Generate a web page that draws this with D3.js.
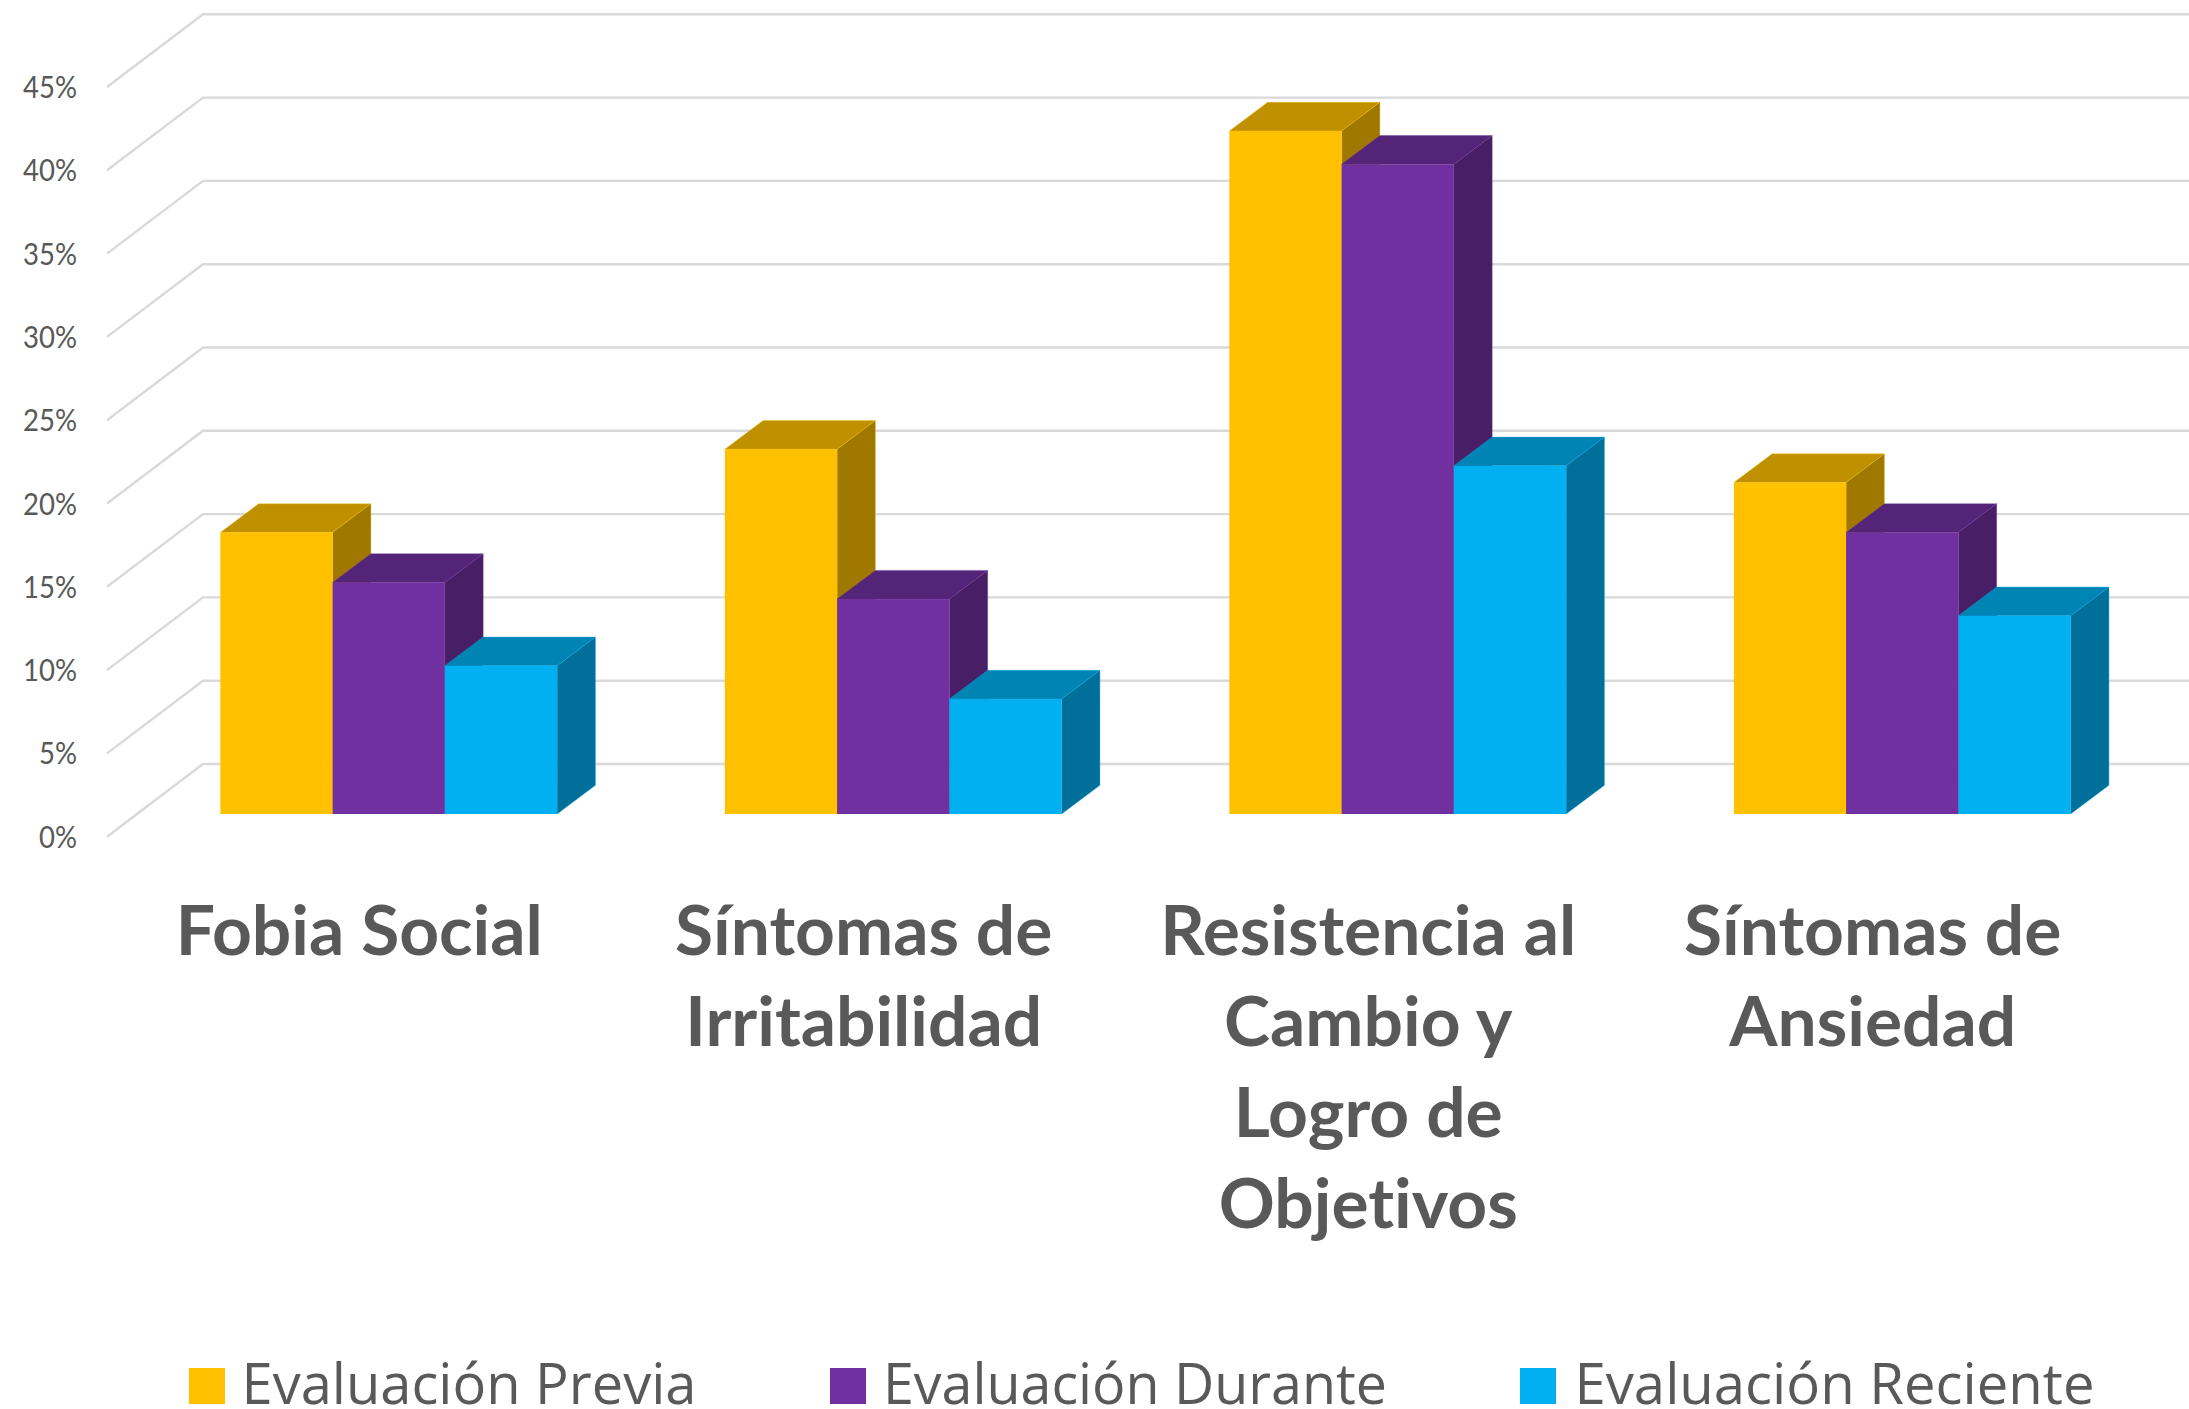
<!DOCTYPE html>
<html><head><meta charset="utf-8">
<style>html,body{margin:0;padding:0;background:#fff;overflow:hidden}svg{display:block}text{font-variant-ligatures:none}</style>
<script src="https://d3js.org/d3.v7.min.js"></script></head>
<body><svg id="c" width="2189" height="1409"></svg>
<script>
const categories = [["Fobia Social"],["Síntomas de","Irritabilidad"],["Resistencia al","Cambio y","Logro de","Objetivos"],["Síntomas de","Ansiedad"]];
const seriesNames = ["Evaluación Previa","Evaluación Durante","Evaluación Reciente"];
const previa = [16.9,21.9,41,19.9];
const durante = [13.9,12.9,39,16.9];
const reciente = [8.9,6.9,20.9,11.9];
const seriesValues = [previa,durante,reciente];
const tickValues = [0,5,10,15,20,25,30,35,40,45];
const frontColors = ["#FFC000","#7030A0","#00B0F0"];
const topColors = ["#BF9000","#542478","#0084B4"];
const sideColors = ["#A07800","#481F66","#006F9A"];
const legendSwatchX = [189,830,1520];
const legendTextX = [241.5,883,1574.5];
const legendTextW = [455,504,520];

const svg = d3.select("#c");
const W = 2189;
const xBand = d3.scaleBand().domain(d3.range(categories.length)).range([107,2125]);
const yAxis = d3.scaleLinear().domain([0,45]).range([836.7,87]);
const back = {dx:96,dy:-72.7};
const gridG = svg.append("g");
const line = d3.line();
tickValues.forEach(t=>{
  const y=yAxis(t);
  gridG.append("path").attr("d",line([[107,y],[107+back.dx,y+back.dy],[W,y+back.dy]]))
    .attr("fill","none").attr("stroke","#D9D9D9").attr("stroke-width",2.4);
  svg.append("text").attr("x",77).attr("y",y+11).attr("text-anchor","end")
    .attr("font-family","Lato, Carlito, sans-serif").attr("font-size",30).attr("fill","#595959")
    .attr("textLength",t<10?38:54).attr("lengthAdjust","spacingAndGlyphs").text(t+"%");
});

// bars sit mid-depth on the floor
const barShift = {dx:29.5,dy:-22.7};
const d = {dx:38.3,dy:-28.7};
const yBar = v => yAxis(v)+barShift.dy;
categories.forEach((c,i)=>{
  const centre = xBand(i)+xBand.bandwidth()/2+barShift.dx;
  const x = d3.scaleBand().domain(d3.range(3)).range([centre-168.4,centre+168.4]);
  seriesValues.forEach((vals,s)=>{
    const x0=x(s), x1=x0+x.bandwidth(), yt=yBar(vals[i]), yb=yBar(0);
    const g=svg.append("g");
    g.append("path").attr("d",line([[x0,yt],[x1,yt],[x1+d.dx,yt+d.dy],[x0+d.dx,yt+d.dy]])+"Z").attr("fill",topColors[s])
      .attr("stroke",frontColors[s]).attr("stroke-opacity",0.35).attr("stroke-width",1);
    g.append("path").attr("d",line([[x1,yt],[x1+d.dx,yt+d.dy],[x1+d.dx,yb+d.dy],[x1,yb]])+"Z").attr("fill",sideColors[s])
      .attr("stroke",frontColors[s]).attr("stroke-opacity",0.35).attr("stroke-width",1);
    g.append("rect").attr("x",x0).attr("y",yt).attr("width",x1-x0).attr("height",yb-yt).attr("fill",frontColors[s]);
  });
  const cx=xBand(i)+xBand.bandwidth()/2;
  c.forEach((ln,k)=>{
    svg.append("text").attr("x",cx).attr("y",955+k*91).attr("text-anchor","middle")
      .attr("font-family","Lato, Carlito, sans-serif").attr("font-weight",700).attr("font-size",69.5)
      .attr("fill","#595959").text(ln);
  });
});

seriesNames.forEach((n,i)=>{
  svg.append("rect").attr("x",legendSwatchX[i]).attr("y",1368).attr("width",36).attr("height",36).attr("fill",frontColors[i]);
  svg.append("text").attr("x",legendTextX[i]).attr("y",1404)
    .attr("font-family","'Open Sans', sans-serif").attr("font-size",57).attr("fill","#595959")
    .attr("textLength",legendTextW[i]).attr("lengthAdjust","spacingAndGlyphs").text(n);
});
</script></body></html>
